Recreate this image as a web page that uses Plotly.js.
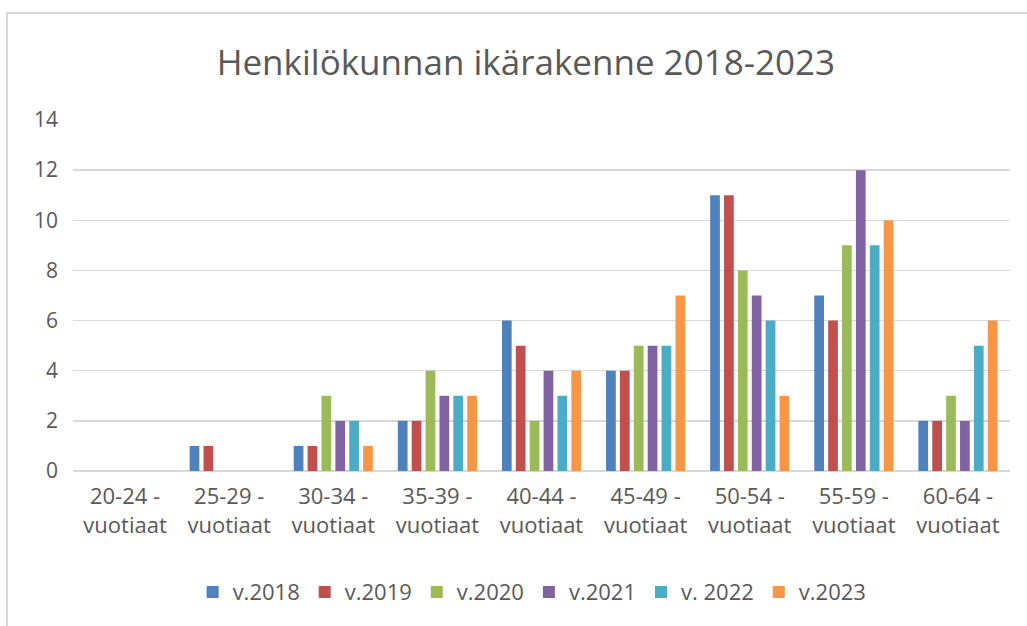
<!DOCTYPE html>
<html><head><meta charset="utf-8">
<script src="https://cdn.plot.ly/plotly-3.0.1.min.js"></script>
<style>
html,body{margin:0;padding:0;background:#fff;}
#frame{position:absolute;left:6px;top:12px;width:1030px;height:620px;border-left:2px solid #d9d9d9;border-top:2px solid #d9d9d9;}
#chart{position:absolute;left:0;top:0;width:1027px;height:626px;}
</style></head>
<body>
<div id="frame"></div>
<div id="chart"></div>
<script>
const categories = ["20-24 -<br>vuotiaat","25-29 -<br>vuotiaat","30-34 -<br>vuotiaat","35-39 -<br>vuotiaat","40-44 -<br>vuotiaat","45-49 -<br>vuotiaat","50-54 -<br>vuotiaat","55-59 -<br>vuotiaat","60-64 -<br>vuotiaat"];
const seriesNames = ["v.2018","v.2019","v.2020","v.2021","v. 2022","v.2023"];
const v2018 = [0,1,1,2,6,4,11,7,2];
const v2019 = [0,1,1,2,5,4,11,6,2];
const v2020 = [0,0,3,4,2,5,8,9,3];
const v2021 = [0,0,2,3,4,5,7,12,2];
const v2022 = [0,0,2,3,3,5,6,9,5];
const v2023 = [0,0,1,3,4,7,3,10,6];
const seriesValues = [v2018,v2019,v2020,v2021,v2022,v2023];
const colors = ["#4F81BD","#C0504D","#9BBB59","#8064A2","#4BACC6","#F79646"];
const font = "'Open Sans', 'Noto Sans', sans-serif";
const traces = seriesValues.map((vals,i)=>({
  type:"bar", name:seriesNames[i], x:categories, y:vals,
  marker:{color:colors[i], line:{width:0}},
  hoverinfo:"y"
}));
const layout = {
  width:1027, height:626,
  paper_bgcolor:"rgba(0,0,0,0)", plot_bgcolor:"rgba(0,0,0,0)",
  margin:{l:73, r:17, t:120, b:155},
  font:{family:font, color:"#595959", size:21},
  title:{text:"Henkilökunnan ikärakenne 2018-2023", font:{family:font, size:35, color:"#595959"}, x:0.512, xanchor:"center", y:0.9, yanchor:"middle"},
  barmode:"group", bargap:0.2, bargroupgap:0.3,
  xaxis:{type:"category", tickfont:{size:22, color:"#595959"}, showgrid:false, zeroline:false, showline:false, ticks:"", ticklabelstandoff:10},
  yaxis:{range:[0,14], dtick:2, tickfont:{size:21, color:"#595959"}, gridcolor:"#d9d9d9", gridwidth:1.5, zeroline:true, zerolinecolor:"#d9d9d9", zerolinewidth:1.5, showline:false, ticks:"", ticklabelstandoff:14, fixedrange:true},
  legend:{orientation:"h", x:0.49, xanchor:"center", y:-0.345, yanchor:"middle", font:{size:22, color:"#595959"}, itemwidth:20, tracegroupgap:0},
  showlegend:true
};
Plotly.newPlot("chart", traces, layout, {displayModeBar:false, staticPlot:true});
</script>
</body></html>
